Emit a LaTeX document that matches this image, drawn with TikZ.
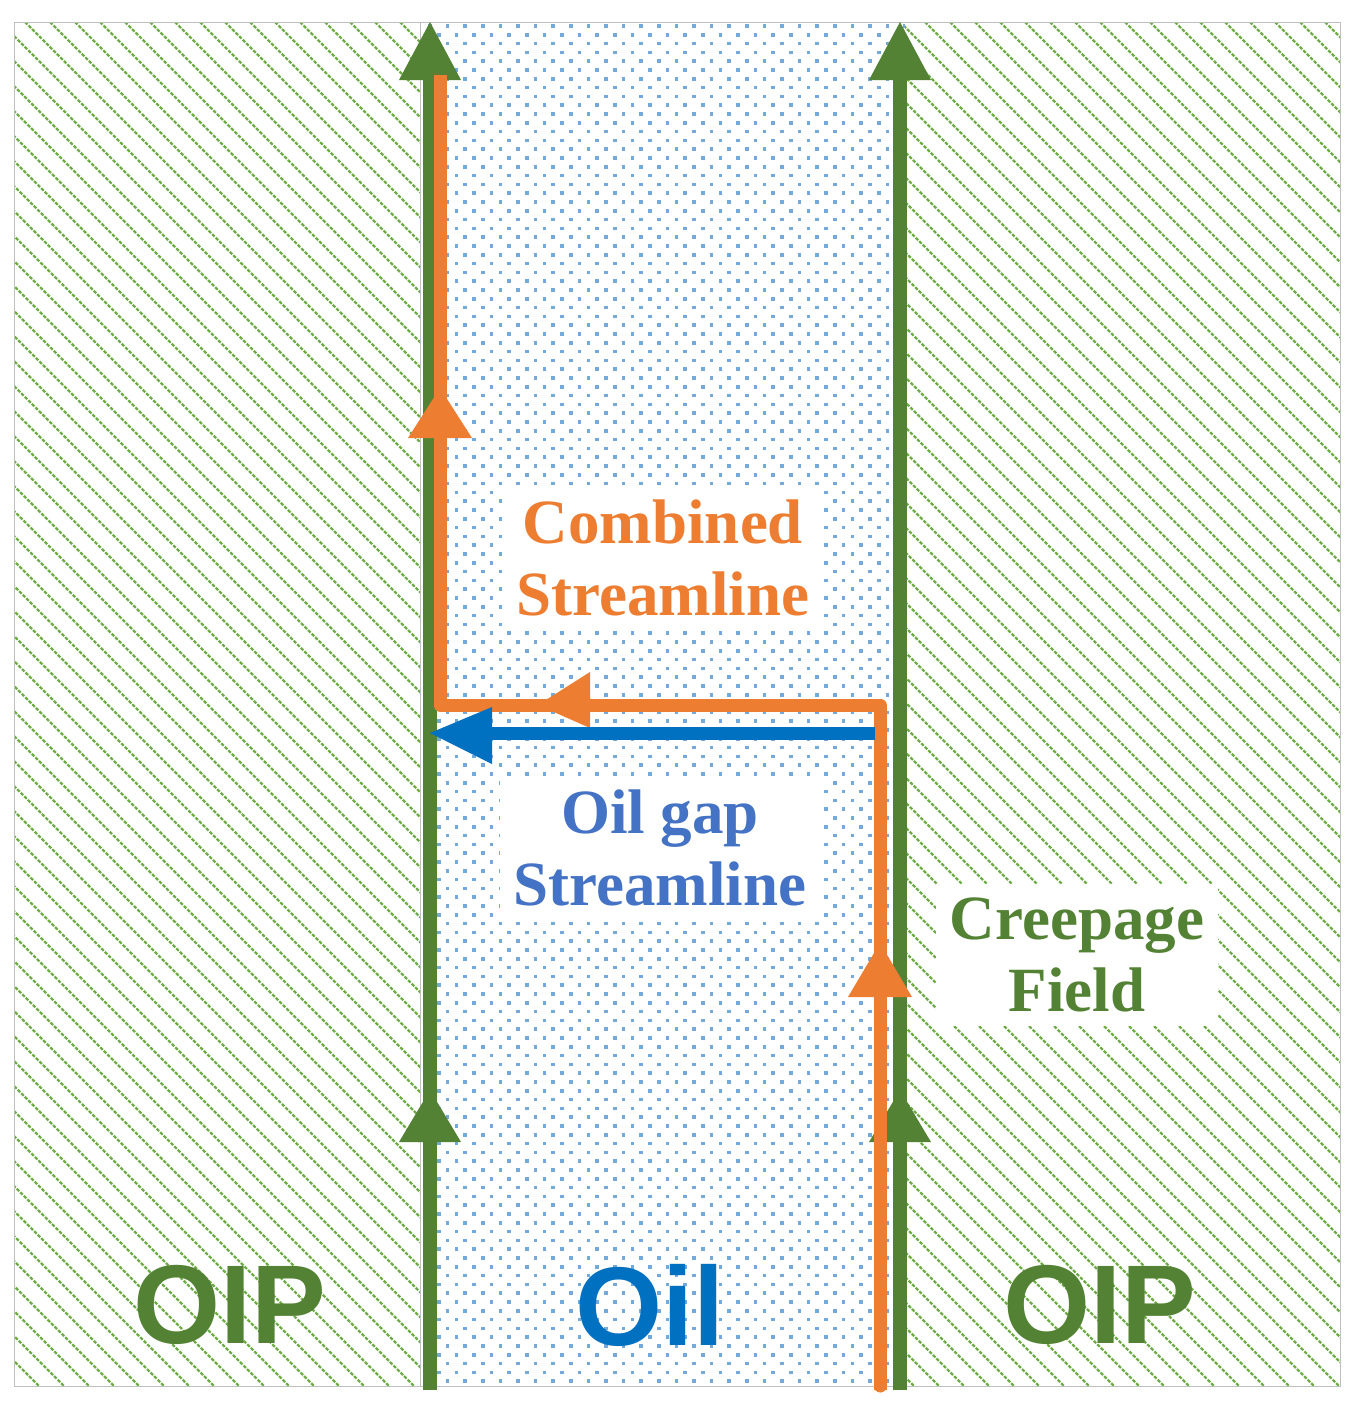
\documentclass[tikz,border=0pt]{standalone}
\usepackage{fontspec}
\setmainfont{Liberation Serif}
\newfontfamily\sansb{Liberation Sans}
\definecolor{gr}{HTML}{548235}
\definecolor{lgr}{HTML}{70AD47}
\definecolor{dotb}{HTML}{5B9BD5}
\definecolor{orn}{HTML}{ED7D31}
\definecolor{blu}{HTML}{0070C0}
\definecolor{tblu}{HTML}{4472C4}
\begin{document}
\begin{tikzpicture}[x=1pt,y=-1pt,
  lbl/.style={fill=white,align=center,font=\fontsize{63}{72}\selectfont\bfseries,inner sep=14pt},
  big/.style={font=\sansb\fontsize{112}{114}\selectfont\bfseries}]
\useasboundingbox (0,0) rectangle (1363,1411);
\fill[white] (0,0) rectangle (1363,1411);
% hatched regions
\begin{scope}
\clip (14,22) rectangle (420,1386) (905,22) rectangle (1340,1386);
\foreach \i in {-1400,-1375,...,1340}
  \draw[lgr,line width=2.3pt,dash pattern=on 3.5pt off 1.5pt] (\i,22) -- ++(1364,1364);
\end{scope}
% dots
\begin{scope}
\clip (420,22) rectangle (905,1386);
\foreach \r in {0,...,156}{
  \pgfmathsetmacro{\yy}{26+\r*8.8}
  \pgfmathsetmacro{\off}{mod(\r,2)*8.8}
  \foreach \c in {0,...,28}
    \fill[dotb!85] ({430+\off+\c*17.6-1.8},{\yy-1.8}) rectangle ++(3.6,3.6);
}
\end{scope}
\draw[gray!50,line width=1pt] (14,22) rectangle (1340,1386);
\draw[gray!50,line width=1pt] (420,22) -- (420,1386);
% labels
\node[lbl,text=orn] at (663,558) {Combined\\Streamline};
\node[lbl,text=tblu] at (660,848) {Oil gap\\Streamline};
\node[lbl,text=gr] at (1077,955) {Creepage\\Field};
\node[big,text=gr] at (230,1305) {OIP};
\node[big,text=blu] at (650,1305) {Oil};
\node[big,text=gr] at (1100,1305) {OIP};
% green creepage lines
\foreach \x in {430,900}{
  \draw[gr,line width=14pt] (\x,1390) -- (\x,75);
  \fill[gr] (\x,22) -- (\x+31,80) -- (\x-31,80) -- cycle;
  \fill[gr] (\x,1090) -- (\x+31,1142) -- (\x-31,1142) -- cycle;
}
% orange combined streamline
\draw[orn,line width=13pt,line join=round] (880,1390) -- (880,705) -- (440,705) -- (440,75);
\draw[orn,line width=13pt,line cap=round] (880,1380) -- (880,1386);
\fill[orn] (440,388) -- (472,438) -- (408,438) -- cycle;
\fill[orn] (880,943) -- (912,997) -- (848,997) -- cycle;
\fill[orn] (538,705) -- (590,672) -- (590,728) -- cycle;
% blue oil gap streamline
\draw[blu,line width=13pt] (875,733) -- (485,733);
\fill[blu] (430,733) -- (492,707) -- (492,764) -- cycle;
\end{tikzpicture}
\end{document}
